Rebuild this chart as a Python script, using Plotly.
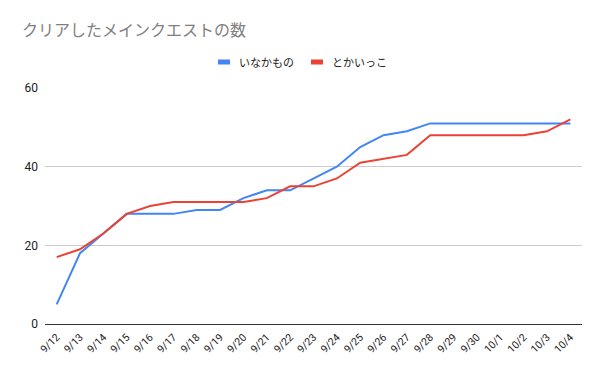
import plotly.graph_objects as go

dates = ["9/12", "9/13", "9/14", "9/15", "9/16", "9/17", "9/18", "9/19", "9/20", "9/21",
         "9/22", "9/23", "9/24", "9/25", "9/26", "9/27", "9/28", "9/29", "9/30", "10/1",
         "10/2", "10/3", "10/4"]
inaka = [5, 18, 23, 28, 28, 28, 29, 29, 32, 34, 34, 37, 40, 45, 48, 49, 51, 51, 51, 51, 51, 51, 51]
tokai = [17, 19, 23, 28, 30, 31, 31, 31, 31, 32, 35, 35, 37, 41, 42, 43, 48, 48, 48, 48, 48, 49, 52]
series_names = ["いなかもの", "とかいっこ"]
series_colors = ["#4285F4", "#EA4335"]

jp = "Noto Sans CJK JP, Roboto, Arial, sans-serif"

# the page body has an 8px default margin; size the figure so it fits the window
OFF = 8
W, H = 600 - OFF, 371 - OFF
L, R, T, B = 45 - OFF, 18, 88 - OFF, 47
pw, ph = W - L - R, H - T - B

fig = go.Figure()
for name, vals, col in zip(series_names, [inaka, tokai], series_colors):
    fig.add_trace(go.Scatter(x=dates, y=vals, mode="lines", name=name,
                             line=dict(color=col, width=2), showlegend=False))

# manual legend (Google-charts style short swatches), page-pixel positions
def px2x(px):
    return (px - OFF - L) / pw

def py2y(py):
    return (H - B - (py - OFF)) / ph

legend_items = [(218, 237), (311, 330)]
ly = 62
shapes = []
annotations = []
for (sx, tx), name, col in zip(legend_items, series_names, series_colors):
    shapes.append(dict(type="rect", xref="paper", yref="paper",
                       x0=px2x(sx), x1=px2x(sx + 12), y0=py2y(ly + 2.5), y1=py2y(ly - 2.5),
                       fillcolor=col, line=dict(width=0)))
    annotations.append(dict(text=name, xref="paper", yref="paper", x=px2x(tx), y=py2y(ly),
                            xanchor="left", yanchor="middle", showarrow=False,
                            font=dict(family=jp, size=11, color="#222222")))

fig.update_layout(
    width=W, height=H,
    margin=dict(l=L, r=R, t=T, b=B),
    paper_bgcolor="white", plot_bgcolor="white",
    font=dict(family="Roboto, Arial, sans-serif", size=11, color="#222222"),
    title=dict(text="クリアしたメインクエストの数", x=(22 - OFF) / W, xanchor="left",
               xref="container", yref="container", y=1 - (30 - OFF) / H, yanchor="middle",
               pad=dict(l=0, r=0, t=0, b=0),
               font=dict(family=jp, size=16, color="#808080")),
    showlegend=False,
    shapes=shapes,
    annotations=annotations,
)
fig.update_xaxes(type="category", range=[-0.5, 22.5], tickangle=-45,
                 showgrid=False, showline=False, ticks="", automargin=False,
                 ticklabelstandoff=4,
                 tickfont=dict(size=10.5, color="#222222"))
fig.update_yaxes(range=[0, 60], tickvals=[0, 20, 40, 60], showgrid=True,
                 gridcolor="#cccccc", gridwidth=1, zeroline=True,
                 zerolinecolor="#333333", zerolinewidth=1, automargin=False,
                 ticks="", ticklabelstandoff=6,
                 tickfont=dict(size=12, color="#222222"))

fig.write_html("out.html")
